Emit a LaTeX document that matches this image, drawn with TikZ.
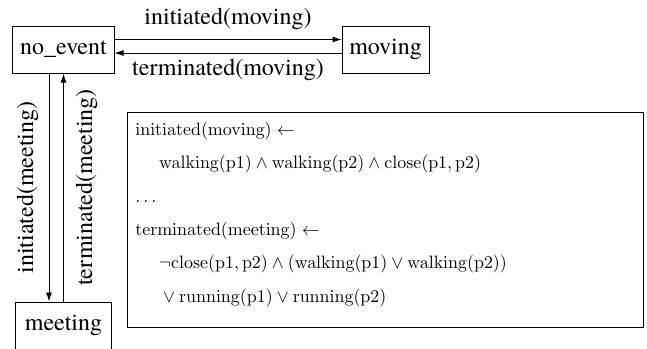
\documentclass[tikz,border=0pt]{standalone}
\usepackage[no-math]{fontspec}
\IfFontExistsTF{texgyretermes-regular.otf}
  {\newfontfamily\tnr{texgyretermes-regular.otf}}
  {\newfontfamily\tnr{Liberation Serif}}
\usetikzlibrary{arrows.meta}
\begin{document}
\begin{tikzpicture}[x=1bp,y=-1bp,
  state/.style={draw, line width=1bp, minimum height=47bp, inner sep=0pt, font=\tnr\fontsize{24bp}{29bp}\selectfont},
  lbl/.style={font=\tnr\fontsize{24bp}{29bp}\selectfont, inner sep=0pt, anchor=base},
  arr/.style={-{Latex[length=9bp,width=6bp]}, line width=0.9bp},
]
\useasboundingbox (0,0) rectangle (647,348);
\node[state, minimum width=101bp] (noevent) at (63.5,49.5) {no\_event};
\node[state, minimum width=87bp] (moving) at (385.5,49.5) {moving};
\node[state, minimum width=95bp] (meeting) at (63.5,325.5) {meeting};

\draw[arr] ([yshift=10bp]noevent.east) -- ([yshift=10bp]moving.west);
\draw[arr] ([yshift=-3.5bp]moving.west) -- ([yshift=-3.5bp]noevent.east);
\draw[arr] ([xshift=-14.5bp]noevent.south) -- ([xshift=-14.5bp]meeting.north);
\draw[arr] (meeting.north) -- (noevent.south);

\node[lbl] (l1) at (228,24) {initiated(moving)};
\node[lbl] (l2) at (228,75) {terminated(moving)};
\node[lbl, rotate=90] (l3) at (33,187.5) {initiated(meeting)};
\node[lbl, rotate=90] (l4) at (92,187.5) {terminated(meeting)};

\node[draw, line width=1.1bp, anchor=north west, minimum width=516bp, minimum height=215bp, inner sep=0pt]
  (frame) at (127,112) {};
\node[anchor=north west, inner sep=0pt, scale=1.8, transform shape, align=left,
  font=\fontsize{10pt}{18.6pt}\selectfont] (rules) at ([xshift=8bp,yshift=-9.5bp]frame.north west) {%
$\mathrm{initiated(moving)}\leftarrow$\\
\hspace*{13.3pt}$\mathrm{walking(p1)}\wedge\mathrm{walking(p2)}\wedge\mathrm{close(p1,p2)}$\\
$\ldots$\\
$\mathrm{terminated(meeting)}\leftarrow$\\
\hspace*{13.3pt}$\neg\mathrm{close(p1,p2)}\wedge(\mathrm{walking(p1)}\vee\mathrm{walking(p2)})$\\
\hspace*{13.3pt}${}\vee\mathrm{running(p1)}\vee\mathrm{running(p2)}$};
\end{tikzpicture}
\end{document}
